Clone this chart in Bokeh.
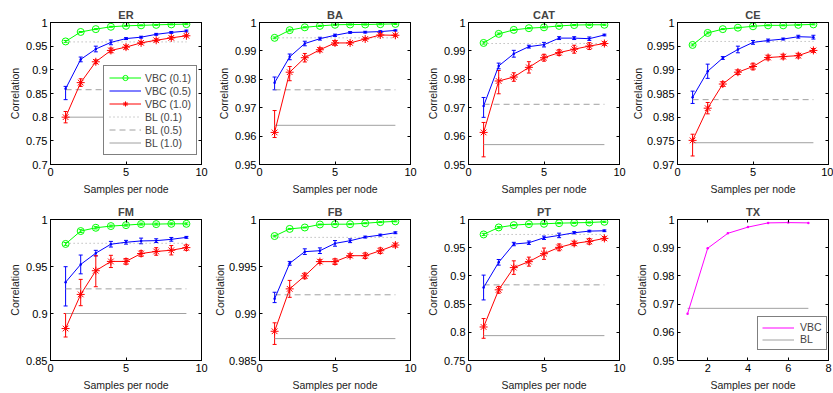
from bokeh.plotting import figure
from bokeh.layouts import gridplot
from bokeh.models import (ColumnDataSource, Whisker, TeeHead, FixedTicker, CustomJSTickFormatter,
                          LinearAxis, Legend, LegendItem, Range1d)
from bokeh.embed import file_html
from bokeh.resources import INLINE

SAMPLES = [1, 2, 3, 4, 5, 6, 7, 8, 9]
X_TICKS = [0, 5, 10]

# ---------------- ER ----------------
ER_V01 = [0.960, 0.980, 0.986, 0.991, 0.993, 0.994, 0.995, 0.996, 0.9965]
ER_E01 = [0.002, 0.001, 0.001, 0.001, 0.001, 0.001, 0.001, 0.001, 0.001]
ER_V05 = [0.860, 0.922, 0.944, 0.958, 0.966, 0.969, 0.975, 0.979, 0.982]
ER_L05 = [0.023, 0.005, 0.006, 0.005, 0.002, 0.002, 0.002, 0.002, 0.002]
ER_H05 = [0.005, 0.005, 0.006, 0.005, 0.002, 0.002, 0.002, 0.002, 0.002]
ER_V10 = [0.800, 0.873, 0.917, 0.941, 0.948, 0.957, 0.9625, 0.9675, 0.972]
ER_L10 = [0.012, 0.008, 0.004, 0.005, 0.004, 0.003, 0.003, 0.003, 0.002]
ER_H10 = [0.012, 0.008, 0.004, 0.005, 0.004, 0.003, 0.003, 0.003, 0.002]
ER_BL = [0.959, 0.858, 0.800]
ER_YTICKS = [0.7, 0.75, 0.8, 0.85, 0.9, 0.95, 1.0]

# ---------------- BA ----------------
BA_V01 = [0.9946, 0.9973, 0.9983, 0.9988, 0.9992, 0.9993, 0.9993, 0.9994, 0.9995]
BA_E01 = [0.0003, 0.0003, 0.0002, 0.0002, 0.0002, 0.0002, 0.0002, 0.0002, 0.0002]
BA_V05 = [0.9788, 0.9879, 0.9926, 0.9943, 0.9955, 0.9965, 0.9966, 0.9968, 0.9972]
BA_L05 = [0.0025, 0.0010, 0.0008, 0.0005, 0.0004, 0.0003, 0.0003, 0.0003, 0.0002]
BA_H05 = [0.0020, 0.0010, 0.0008, 0.0005, 0.0004, 0.0003, 0.0003, 0.0003, 0.0002]
BA_V10 = [0.9613, 0.9825, 0.9876, 0.9904, 0.9928, 0.9928, 0.9942, 0.9956, 0.9955]
BA_L10 = [0.0018, 0.0030, 0.0015, 0.0007, 0.0008, 0.0005, 0.0004, 0.0004, 0.0004]
BA_H10 = [0.0077, 0.0020, 0.0015, 0.0007, 0.0008, 0.0005, 0.0004, 0.0004, 0.0004]
BA_BL = [0.9946, 0.9763, 0.9638]
BA_YTICKS = [0.95, 0.96, 0.97, 0.98, 0.99, 1.0]

# ---------------- CAT ----------------
CAT_V01 = [0.9928, 0.9960, 0.9974, 0.9980, 0.9983, 0.9988, 0.9991, 0.9992, 0.9992]
CAT_E01 = [0.0004, 0.0003, 0.0002, 0.0002, 0.0002, 0.0002, 0.0002, 0.0002, 0.0002]
CAT_V05 = [0.9706, 0.9847, 0.9890, 0.9915, 0.9922, 0.9945, 0.9945, 0.9943, 0.9956]
CAT_L05 = [0.0040, 0.0010, 0.0012, 0.0005, 0.0008, 0.0005, 0.0005, 0.0006, 0.0003]
CAT_H05 = [0.0030, 0.0010, 0.0012, 0.0005, 0.0008, 0.0005, 0.0005, 0.0006, 0.0003]
CAT_V10 = [0.9613, 0.9794, 0.9808, 0.9842, 0.9876, 0.9894, 0.9906, 0.9917, 0.9926]
CAT_L10 = [0.0086, 0.0045, 0.0015, 0.0020, 0.0012, 0.0010, 0.0014, 0.0012, 0.0006]
CAT_H10 = [0.0035, 0.0037, 0.0015, 0.0020, 0.0012, 0.0010, 0.0014, 0.0012, 0.0006]
CAT_BL = [0.9926, 0.9712, 0.9570]
CAT_YTICKS = [0.95, 0.96, 0.97, 0.98, 0.99, 1.0]

# ---------------- CE ----------------
CE_V01 = [0.99526, 0.9978, 0.9986, 0.9989, 0.9992, 0.9994, 0.9994, 0.9995, 0.9996]
CE_E01 = [0.0002, 0.0002, 0.0001, 0.0001, 0.0001, 0.0001, 0.0001, 0.0001, 0.0001]
CE_V05 = [0.9842, 0.9897, 0.9925, 0.9943, 0.9958, 0.9962, 0.9965, 0.9970, 0.9969]
CE_L05 = [0.0013, 0.0015, 0.0003, 0.0007, 0.0004, 0.0003, 0.0002, 0.0003, 0.0004]
CE_H05 = [0.0013, 0.0015, 0.0003, 0.0007, 0.0004, 0.0003, 0.0002, 0.0003, 0.0004]
CE_V10 = [0.9751, 0.9819, 0.9870, 0.9895, 0.9907, 0.9926, 0.9928, 0.9930, 0.9941]
CE_L10 = [0.0033, 0.0012, 0.0005, 0.0005, 0.0007, 0.0005, 0.0005, 0.0005, 0.0004]
CE_H10 = [0.0013, 0.0012, 0.0005, 0.0005, 0.0007, 0.0005, 0.0005, 0.0005, 0.0004]
CE_BL = [0.9960, 0.9837, 0.9746]
CE_YTICKS = [0.97, 0.975, 0.98, 0.985, 0.99, 0.995, 1.0]

# ---------------- FM ----------------
FM_V01 = [0.9740, 0.9877, 0.9912, 0.9930, 0.9940, 0.9951, 0.9951, 0.9954, 0.9954]
FM_E01 = [0.0015, 0.0015, 0.0012, 0.0010, 0.0010, 0.0010, 0.0010, 0.0010, 0.0010]
FM_V05 = [0.9333, 0.9522, 0.9642, 0.9737, 0.9758, 0.9772, 0.9775, 0.9789, 0.9810]
FM_L05 = [0.0253, 0.0100, 0.0030, 0.0030, 0.0020, 0.0030, 0.0020, 0.0020, 0.0010]
FM_H05 = [0.0165, 0.0100, 0.0030, 0.0030, 0.0020, 0.0030, 0.0020, 0.0020, 0.0010]
FM_V10 = [0.8840, 0.9203, 0.9455, 0.9554, 0.9554, 0.9638, 0.9660, 0.9673, 0.9701]
FM_L10 = [0.0090, 0.0120, 0.0170, 0.0065, 0.0030, 0.0030, 0.0040, 0.0050, 0.0030]
FM_H10 = [0.0160, 0.0160, 0.0160, 0.0065, 0.0030, 0.0030, 0.0040, 0.0050, 0.0030]
FM_BL = [0.9747, 0.9262, 0.9000]
FM_YTICKS = [0.85, 0.9, 0.95, 1.0]

# ---------------- FB ----------------
FB_V01 = [0.99824, 0.99900, 0.99915, 0.99947, 0.99950, 0.99950, 0.99960, 0.99972, 0.99980]
FB_E01 = [0.00008, 0.00005, 0.00005, 0.00005, 0.00005, 0.00005, 0.00005, 0.00005, 0.00005]
FB_V05 = [0.99156, 0.99534, 0.99658, 0.99668, 0.99746, 0.99774, 0.99813, 0.99834, 0.99859]
FB_L05 = [0.0004, 0.0002, 0.0003, 0.0003, 0.0003, 0.0002, 0.0001, 0.0001, 0.0001]
FB_H05 = [0.0007, 0.0002, 0.0003, 0.0003, 0.0003, 0.0002, 0.0001, 0.0001, 0.0001]
FB_V10 = [0.98811, 0.99262, 0.99400, 0.99552, 0.99552, 0.99615, 0.99615, 0.99668, 0.99728]
FB_L10 = [0.0014, 0.0009, 0.0003, 0.0002, 0.0003, 0.0002, 0.0003, 0.0003, 0.0002]
FB_H10 = [0.0009, 0.0009, 0.0003, 0.0002, 0.0003, 0.0002, 0.0003, 0.0003, 0.0002]
FB_BL = [0.99810, 0.99199, 0.98733]
FB_YTICKS = [0.985, 0.99, 0.995, 1.0]

# ---------------- PT ----------------
PT_V01 = [0.9735, 0.9859, 0.9900, 0.9918, 0.9924, 0.9935, 0.9941, 0.9947, 0.9959]
PT_E01 = [0.0020, 0.0015, 0.0010, 0.0010, 0.0010, 0.0010, 0.0010, 0.0010, 0.0010]
PT_V05 = [0.8794, 0.9241, 0.9565, 0.9588, 0.9676, 0.9718, 0.9765, 0.9794, 0.9800]
PT_L05 = [0.0220, 0.0050, 0.0030, 0.0030, 0.0030, 0.0040, 0.0020, 0.0015, 0.0015]
PT_H05 = [0.0220, 0.0050, 0.0030, 0.0030, 0.0030, 0.0040, 0.0020, 0.0015, 0.0015]
PT_V10 = [0.8094, 0.8753, 0.9147, 0.9253, 0.9394, 0.9506, 0.9576, 0.9612, 0.9665]
PT_L10 = [0.0200, 0.0060, 0.0120, 0.0080, 0.0100, 0.0060, 0.0040, 0.0050, 0.0030]
PT_H10 = [0.0150, 0.0060, 0.0120, 0.0080, 0.0100, 0.0060, 0.0040, 0.0050, 0.0030]
PT_BL = [0.9735, 0.8841, 0.7941]
PT_YTICKS = [0.75, 0.8, 0.85, 0.9, 0.95, 1.0]

# ---------------- TX ----------------
TX_SAMPLES = [1, 2, 3, 4, 5, 6, 7]
TX_VBC = [0.9666, 0.9898, 0.9951, 0.9973, 0.9988, 0.9989, 0.9988]
TX_BL = 0.9685
TX_YTICKS = [0.95, 0.96, 0.97, 0.98, 0.99, 1.0]
TX_XTICKS = [2, 4, 6, 8]

VBC_LABELS = ["VBC (0.1)", "VBC (0.5)", "VBC (1.0)"]
BL_LABELS = ["BL (0.1)", "BL (0.5)", "BL (1.0)"]

FONT = "Liberation Sans"
GREEN, BLUE, RED, MAGENTA = "#00ff00", "#0000ff", "#ff0000", "#ff00ff"
GRAY = "#a0a0a0"
FMT = "return String(parseFloat(tick.toFixed(4)));"

FRAME_W = 151
MB_LEFT = 50
COL_W = MB_LEFT + FRAME_W + 8
LAST_W = MB_LEFT + FRAME_W + 5
ROW1_H = 197
ROW2_H = 196
MB_TOP = 22
ROW1_MB_BOTTOM = 33
ROW2_MB_BOTTOM = 31


def make_fig(title, ylo, yhi, yticks, xlo, xhi, xticks, width, height,
             mb_right, mb_bottom, ylab_standoff):
    p = figure(width=width, height=height, title=title,
               x_range=Range1d(xlo, xhi), y_range=Range1d(ylo, yhi),
               output_backend="svg", toolbar_location=None,
               min_border_left=MB_LEFT, min_border_right=mb_right,
               min_border_top=MB_TOP, min_border_bottom=mb_bottom)
    p.title.text_font = FONT
    p.title.text_font_size = "11px"
    p.title.text_font_style = "bold"
    p.title.align = "center"
    p.title.standoff = 4
    p.xgrid.visible = False
    p.ygrid.visible = False
    p.outline_line_color = "black"
    p.outline_line_alpha = 1
    p.background_fill_color = "white"
    p.border_fill_color = "white"

    for ax, ticks in ((p.xaxis[0], xticks), (p.yaxis[0], yticks)):
        ax.ticker = FixedTicker(ticks=ticks)
        ax.formatter = CustomJSTickFormatter(code=FMT)
        ax.major_tick_in = 3
        ax.major_tick_out = 0
        ax.minor_tick_line_color = None
        ax.axis_line_color = "black"
        ax.major_tick_line_color = "black"
        ax.major_label_text_font = FONT
        ax.major_label_text_font_size = "11px"
        ax.major_label_text_color = "black"
    p.xaxis[0].axis_label = "Samples per node"
    p.yaxis[0].axis_label = "Correlation"
    for ax in (p.xaxis[0], p.yaxis[0]):
        ax.axis_label_text_font = FONT
        ax.axis_label_text_font_size = "10.5px"
        ax.axis_label_text_font_style = "normal"
        ax.axis_label_text_color = "#222222"
    p.xaxis[0].major_label_standoff = 3
    p.xaxis[0].axis_label_standoff = 4
    p.yaxis[0].major_label_standoff = 3
    p.yaxis[0].axis_label_standoff = ylab_standoff

    # mirrored ticks on right and top
    for place, ticks in (("right", yticks), ("above", xticks)):
        a = LinearAxis(ticker=FixedTicker(ticks=ticks),
                       formatter=CustomJSTickFormatter(code="return '';"),
                       major_tick_in=3, major_tick_out=0,
                       minor_tick_line_color=None,
                       major_label_text_font_size="0px",
                       major_label_standoff=0,
                       axis_line_color="black")
        p.add_layout(a, place)
    return p


def whisker(p, xs, vals, lo, hi, color):
    src = ColumnDataSource(dict(x=xs,
                                lower=[v - l for v, l in zip(vals, lo)],
                                upper=[v + h for v, h in zip(vals, hi)]))
    w = Whisker(source=src, base="x", lower="lower", upper="upper",
                line_color=color, line_width=1,
                upper_head=TeeHead(size=4, line_color=color, line_width=1),
                lower_head=TeeHead(size=4, line_color=color, line_width=1))
    p.add_layout(w)


def panel(title, v01, e01, v05, l05, h05, v10, l10, h10, bl, yticks,
          width, height, mb_right, mb_bottom, ylab_standoff, with_legend=False):
    p = make_fig(title, yticks[0], yticks[-1], yticks, 0, 10, X_TICKS,
                 width, height, mb_right, mb_bottom, ylab_standoff)
    xs = SAMPLES
    bx = [xs[0], xs[-1]]
    b1 = p.line(bx, [bl[0]] * 2, line_color=GRAY, line_width=1, line_dash="1 3")
    b2 = p.line(bx, [bl[1]] * 2, line_color=GRAY, line_width=1, line_dash="6 4")
    b3 = p.line(bx, [bl[2]] * 2, line_color=GRAY, line_width=1)

    whisker(p, xs, v01, e01, e01, GREEN)
    whisker(p, xs, v05, l05, h05, BLUE)
    whisker(p, xs, v10, l10, h10, RED)

    g_l = p.line(xs, v01, line_color=GREEN, line_width=1)
    g_m = p.scatter(xs, v01, marker="circle", size=7, fill_color=None,
                    line_color=GREEN, line_width=1)
    u_l = p.line(xs, v05, line_color=BLUE, line_width=1)
    p.scatter(xs, v05, marker="circle", size=2.5, fill_color=BLUE, line_color=None)
    r_l = p.line(xs, v10, line_color=RED, line_width=1)
    r_m = p.scatter(xs, v10, marker="asterisk", size=8, line_color=RED,
                    line_width=1)

    if with_legend:
        items = [LegendItem(label=VBC_LABELS[0], renderers=[g_l, g_m]),
                 LegendItem(label=VBC_LABELS[1], renderers=[u_l]),
                 LegendItem(label=VBC_LABELS[2], renderers=[r_l, r_m]),
                 LegendItem(label=BL_LABELS[0], renderers=[b1]),
                 LegendItem(label=BL_LABELS[1], renderers=[b2]),
                 LegendItem(label=BL_LABELS[2], renderers=[b3])]
        lg = Legend(items=items, location=(53, 9), glyph_width=32,
                    glyph_height=13, label_height=13, label_standoff=4,
                    padding=5, spacing=0, margin=0,
                    label_text_font=FONT, label_text_font_size="10.5px",
                    border_line_color="black", border_line_width=1,
                    background_fill_color="white", background_fill_alpha=1)
        p.add_layout(lg)
    return p


p_er = panel("ER", ER_V01, ER_E01, ER_V05, ER_L05, ER_H05, ER_V10, ER_L10, ER_H10,
             ER_BL, ER_YTICKS, COL_W, ROW1_H, 8, ROW1_MB_BOTTOM, 2, with_legend=True)
p_ba = panel("BA", BA_V01, BA_E01, BA_V05, BA_L05, BA_H05, BA_V10, BA_L10, BA_H10,
             BA_BL, BA_YTICKS, COL_W, ROW1_H, 8, ROW1_MB_BOTTOM, 2)
p_cat = panel("CAT", CAT_V01, CAT_E01, CAT_V05, CAT_L05, CAT_H05, CAT_V10, CAT_L10, CAT_H10,
              CAT_BL, CAT_YTICKS, COL_W, ROW1_H, 8, ROW1_MB_BOTTOM, 2)
p_ce = panel("CE", CE_V01, CE_E01, CE_V05, CE_L05, CE_H05, CE_V10, CE_L10, CE_H10,
             CE_BL, CE_YTICKS, LAST_W, ROW1_H, 5, ROW1_MB_BOTTOM, 0)
p_fm = panel("FM", FM_V01, FM_E01, FM_V05, FM_L05, FM_H05, FM_V10, FM_L10, FM_H10,
             FM_BL, FM_YTICKS, COL_W, ROW2_H, 8, ROW2_MB_BOTTOM, 2)
p_fb = panel("FB", FB_V01, FB_E01, FB_V05, FB_L05, FB_H05, FB_V10, FB_L10, FB_H10,
             FB_BL, FB_YTICKS, COL_W, ROW2_H, 8, ROW2_MB_BOTTOM, 0)
p_pt = panel("PT", PT_V01, PT_E01, PT_V05, PT_L05, PT_H05, PT_V10, PT_L10, PT_H10,
             PT_BL, PT_YTICKS, COL_W, ROW2_H, 8, ROW2_MB_BOTTOM, 2)

# TX panel
p_tx = make_fig("TX", TX_YTICKS[0], TX_YTICKS[-1], TX_YTICKS, 0.5, 8, TX_XTICKS,
                LAST_W, ROW2_H, 5, ROW2_MB_BOTTOM, 2)
tx_bl = p_tx.line([TX_SAMPLES[0], TX_SAMPLES[-1]], [TX_BL] * 2, line_color=GRAY, line_width=1)
tx_l = p_tx.line(TX_SAMPLES, TX_VBC, line_color=MAGENTA, line_width=1)
p_tx.scatter(TX_SAMPLES, TX_VBC, marker="circle", size=2.5,
             fill_color=MAGENTA, line_color=None)
lg_tx = Legend(items=[LegendItem(label="VBC", renderers=[tx_l]),
                      LegendItem(label="BL", renderers=[tx_bl])],
               location=(80, 10), glyph_width=32, glyph_height=11, label_height=11,
               label_standoff=6, padding=4, spacing=0, margin=0,
               label_text_font=FONT, label_text_font_size="10.5px",
               border_line_color="black", border_line_width=1,
               background_fill_color="white", background_fill_alpha=1)
p_tx.add_layout(lg_tx)

grid = gridplot([[p_er, p_ba, p_cat, p_ce], [p_fm, p_fb, p_pt, p_tx]],
                toolbar_location=None)

open("out.html", "w").write(file_html(grid, INLINE))
